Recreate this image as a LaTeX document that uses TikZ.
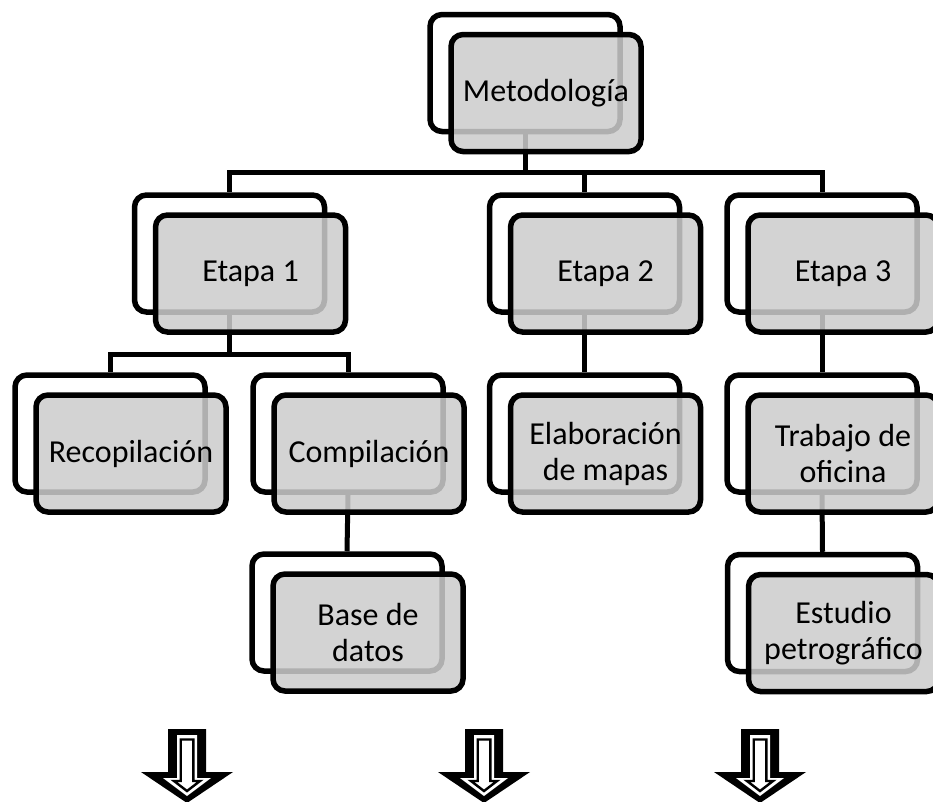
\documentclass[tikz,border=0pt]{standalone}
\usepackage{fontspec}
\setmainfont{Carlito}
\usetikzlibrary{calc}
\tikzset{
  backbox/.style={draw, line width=5.5pt, rounded corners=12pt, fill=white,
    minimum width=190pt, minimum height=117pt, inner sep=0pt},
  frontbox/.style={draw, line width=5.5pt, rounded corners=12pt, fill=black!20,
    fill opacity=0.86, text opacity=1, minimum width=190pt, minimum height=117pt,
    inner sep=0pt, align=center, font=\fontsize{32}{36}\selectfont},
  link/.style={line width=5pt},
  arrowouter/.style={fill=black},
  arrowmid/.style={fill=white},
  arrowinner/.style={fill=white, draw=black, line width=2.4pt, line join=miter},
}
\newcommand{\backof}[3]{\node[backbox] (#1B) at (#2,#3) {};}
\newcommand{\frontof}[2]{\node[frontbox] (#1) at ($(#1B)+(21,20)$) {#2};}
\newcommand{\blockdown}[1]{%
  \begin{scope}[shift={(#1,0)}]
    \path[arrowouter] (-19,729) -- (19,729) -- (19,772) -- (46,772) -- (0,803)
      -- (-46,772) -- (-19,772) -- cycle;
    \path[arrowmid] (-10,735) -- (10,735) -- (10,778) -- (24,778) -- (0,796)
      -- (-24,778) -- (-10,778) -- cycle;
    \path[arrowinner] (-6.3,739.5) -- (6.3,739.5) -- (6.3,781) -- (13,781) -- (0,791)
      -- (-13,781) -- (-6.3,781) -- cycle;
  \end{scope}}
\begin{document}
\begin{tikzpicture}[x=1pt,y=-1pt]
  \useasboundingbox (0,0) rectangle (933,801);
  \clip (0,0) rectangle (933,801);
  % back boxes
  \backof{met}{525}{73}
  \backof{eA}{229.5}{253.5}
  \backof{eB}{584.5}{253.5}
  \backof{eC}{822}{253.5}
  \backof{rec}{110}{433.5}
  \backof{com}{348}{433.5}
  \backof{ela}{584.5}{433.5}
  \backof{tra}{822}{433.5}
  \backof{bas}{347}{612.5}
  \backof{est}{822.5}{613}
  % connectors
  \coordinate (jm) at ($(metB.south)+(0,38)$);
  \coordinate (je) at ($(eAB.south)+(0,40)$);
  \draw[link] (metB.south) -- (jm);
  \draw[link] (jm) -| (eAB.north);
  \draw[link] (jm) -| (eBB.north);
  \draw[link] (jm) -| (eCB.north);
  \draw[link] (eAB.south) -- (je);
  \draw[link] (je) -| (recB.north);
  \draw[link] (je) -| (comB.north);
  \draw[link] (eBB.south) -- (elaB.north);
  \draw[link] (eCB.south) -- (traB.north);
  \draw[link] (comB.south) -- (basB.north);
  \draw[link] (traB.south) -- (estB.north);
  % front boxes
  \frontof{met}{Metodología}
  \frontof{eA}{Etapa 1}
  \frontof{eB}{Etapa 2}
  \frontof{eC}{Etapa 3}
  \frontof{rec}{Recopilación}
  \frontof{com}{Compilación}
  \frontof{ela}{Elaboración\\de mapas}
  \frontof{tra}{Trabajo de\\oficina}
  \frontof{bas}{Base de\\datos}
  \frontof{est}{Estudio\\petrográfico}
  % block arrows
  \blockdown{187}
  \blockdown{484}
  \blockdown{760}
\end{tikzpicture}
\end{document}
